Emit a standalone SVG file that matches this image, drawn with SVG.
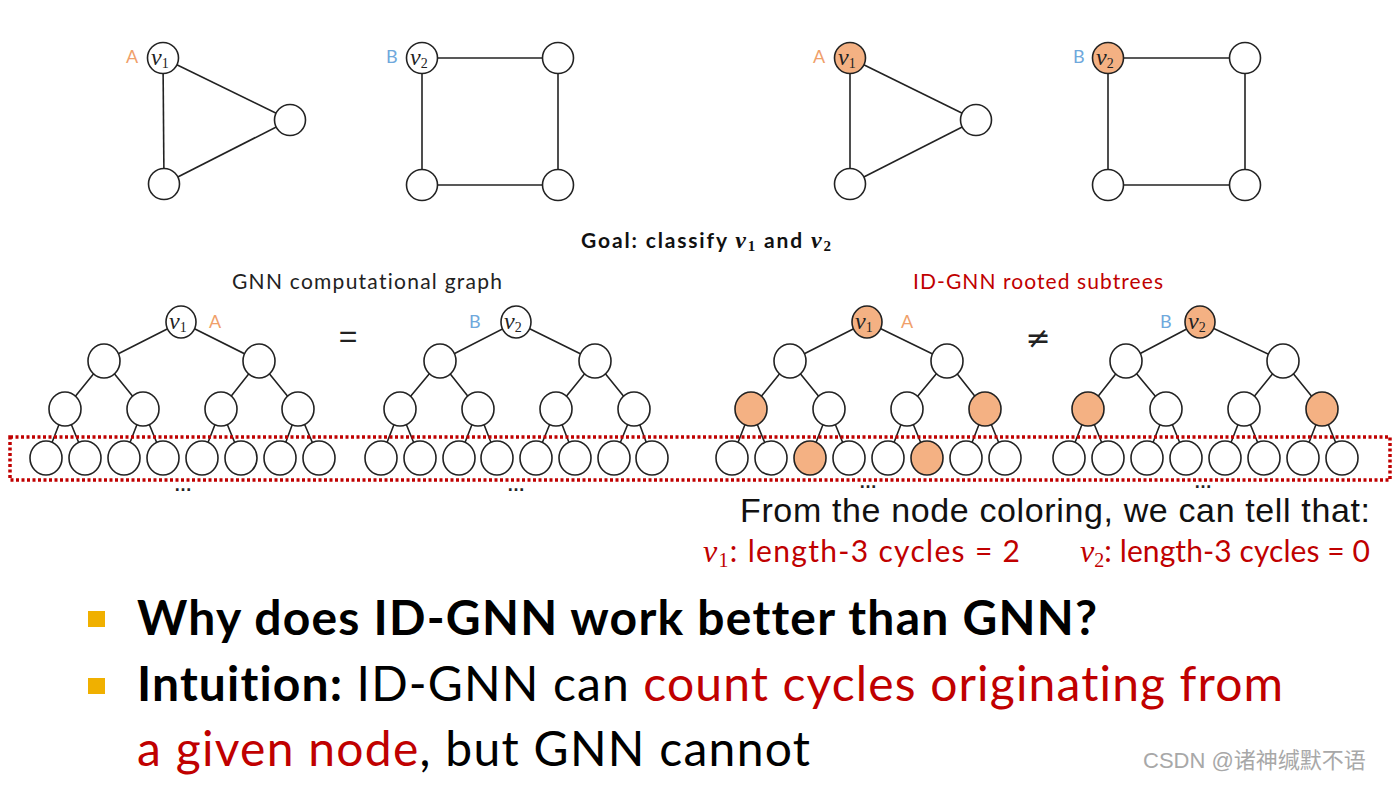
<svg xmlns="http://www.w3.org/2000/svg" width="1397" height="796" viewBox="0 0 1397 796">
<style>
text{font-variant-ligatures:none}
.e{stroke:#222;stroke-width:1.6;fill:none}
.n{fill:#fff;stroke:#222;stroke-width:1.6}
.o{fill:#f4b183}
.v{font-family:"Liberation Serif",serif;font-style:italic;font-size:24px;fill:#222}
.s{font-style:normal;font-size:14px}
.la{font-family:Lato,"Liberation Sans",sans-serif;font-size:18px;fill:#f0a06a}
.lb{font-family:Lato,"Liberation Sans",sans-serif;font-size:18px;fill:#6fa8dc}
.cal{font-family:Lato,"Liberation Sans",sans-serif}
.red{fill:#c00000}
.dots{font-family:"Liberation Sans",sans-serif;font-size:18px;font-weight:bold;fill:#222;text-anchor:middle}
</style>
<rect width="1397" height="796" fill="#fff"/>

<g id="connectors">
<line class="e" x1="163" y1="58" x2="290" y2="120"/>
<line class="e" x1="163" y1="58" x2="164" y2="184"/>
<line class="e" x1="164" y1="184" x2="290" y2="120"/>
<line class="e" x1="422" y1="58" x2="558" y2="58"/>
<line class="e" x1="422" y1="58" x2="422" y2="185"/>
<line class="e" x1="558" y1="58" x2="558" y2="185"/>
<line class="e" x1="422" y1="185" x2="558" y2="185"/>
<line class="e" x1="850" y1="58" x2="976" y2="120"/>
<line class="e" x1="850" y1="58" x2="850" y2="184"/>
<line class="e" x1="850" y1="184" x2="976" y2="120"/>
<line class="e" x1="1108" y1="58" x2="1245" y2="58"/>
<line class="e" x1="1108" y1="58" x2="1108" y2="185"/>
<line class="e" x1="1245" y1="58" x2="1245" y2="185"/>
<line class="e" x1="1108" y1="185" x2="1245" y2="185"/>
<path class="e" d="M181 322L104 361M181 322L259 361M104 361L65 409M104 361L143 409M259 361L221 409M259 361L298 409M65 409L46 458M65 409L85 458M143 409L124 458M143 409L163 458M221 409L202 458M221 409L241 458M298 409L280 458M298 409L319 458"/>
<path class="e" d="M516 322L440 361M516 322L595 361M440 361L400 409M440 361L478 409M595 361L556 409M595 361L634 409M400 409L381 458M400 409L420 458M478 409L459 458M478 409L497 458M556 409L536 458M556 409L575 458M634 409L614 458M634 409L652 458"/>
<path class="e" d="M867 322L790 361M867 322L947 361M790 361L751 409M790 361L829 409M947 361L907 409M947 361L985 409M751 409L732 458M751 409L771 458M829 409L810 458M829 409L849 458M907 409L888 458M907 409L927 458M985 409L966 458M985 409L1005 458"/>
<path class="e" d="M1200 322L1126 361M1200 322L1283 361M1126 361L1088 409M1126 361L1166 409M1283 361L1244 409M1283 361L1322 409M1088 409L1069 458M1088 409L1108 458M1166 409L1147 458M1166 409L1186 458M1244 409L1225 458M1244 409L1264 458M1322 409L1303 458M1322 409L1342 458"/>
</g>

<g id="g1-v1"><circle class="n" cx="163" cy="58" r="15.5"/><text class="v" x="151" y="65">v<tspan class="s" dy="3">1</tspan></text></g>
<g id="g1-n2"><circle class="n" cx="290" cy="120" r="15.5"/></g>
<g id="g1-n3"><circle class="n" cx="164" cy="184" r="15.5"/></g>
<text class="la" x="126" y="63">A</text>
<g id="g2-v2"><circle class="n" cx="422" cy="58" r="15.5"/><text class="v" x="410" y="65">v<tspan class="s" dy="3">2</tspan></text></g>
<g id="g2-n2"><circle class="n" cx="558" cy="58" r="15.5"/></g>
<g id="g2-n3"><circle class="n" cx="422" cy="185" r="15.5"/></g>
<g id="g2-n4"><circle class="n" cx="558" cy="185" r="15.5"/></g>
<text class="lb" x="386" y="63">B</text>
<g id="g3-v1"><circle class="n o" cx="850" cy="58" r="15.5"/><text class="v" x="838" y="65">v<tspan class="s" dy="3">1</tspan></text></g>
<g id="g3-n2"><circle class="n" cx="976" cy="120" r="15.5"/></g>
<g id="g3-n3"><circle class="n" cx="850" cy="184" r="15.5"/></g>
<text class="la" x="813" y="63">A</text>
<g id="g4-v2"><circle class="n o" cx="1108" cy="58" r="15.5"/><text class="v" x="1096" y="65">v<tspan class="s" dy="3">2</tspan></text></g>
<g id="g4-n2"><circle class="n" cx="1245" cy="58" r="15.5"/></g>
<g id="g4-n3"><circle class="n" cx="1108" cy="185" r="15.5"/></g>
<g id="g4-n4"><circle class="n" cx="1245" cy="185" r="15.5"/></g>
<text class="lb" x="1073" y="63">B</text>

<text class="cal" x="581" y="248" font-size="21" font-weight="bold" fill="#111" textLength="250">Goal: classify <tspan font-family="Liberation Serif,serif" font-style="italic" font-size="24">v</tspan><tspan font-family="Liberation Serif,serif" font-size="15" dy="3">1</tspan><tspan dy="-3"> and </tspan><tspan font-family="Liberation Serif,serif" font-style="italic" font-size="24">v</tspan><tspan font-family="Liberation Serif,serif" font-size="15" dy="3">2</tspan></text>

<text class="cal" x="367" y="289" font-size="21" fill="#222" text-anchor="middle" textLength="270">GNN computational graph</text>
<text class="cal red" x="1038" y="289" font-size="21" text-anchor="middle" textLength="250">ID-GNN rooted subtrees</text>

<g id="t1-root"><ellipse class="n" cx="181" cy="322" rx="15" ry="16"/><text class="v" x="169" y="329">v<tspan class="s" dy="3">1</tspan></text></g>
<text class="la" x="209" y="328">A</text>
<g id="t1-a1"><ellipse class="n" cx="104" cy="361" rx="16" ry="17"/></g>
<g id="t1-a2"><ellipse class="n" cx="259" cy="361" rx="16" ry="17"/></g>
<g id="t1-b1"><ellipse class="n" cx="65" cy="409" rx="16" ry="17"/></g>
<g id="t1-b2"><ellipse class="n" cx="143" cy="409" rx="16" ry="17"/></g>
<g id="t1-b3"><ellipse class="n" cx="221" cy="409" rx="16" ry="17"/></g>
<g id="t1-b4"><ellipse class="n" cx="298" cy="409" rx="16" ry="17"/></g>
<g id="t1-c1"><ellipse class="n" cx="46" cy="458" rx="16" ry="17"/></g>
<g id="t1-c2"><ellipse class="n" cx="85" cy="458" rx="16" ry="17"/></g>
<g id="t1-c3"><ellipse class="n" cx="124" cy="458" rx="16" ry="17"/></g>
<g id="t1-c4"><ellipse class="n" cx="163" cy="458" rx="16" ry="17"/></g>
<g id="t1-c5"><ellipse class="n" cx="202" cy="458" rx="16" ry="17"/></g>
<g id="t1-c6"><ellipse class="n" cx="241" cy="458" rx="16" ry="17"/></g>
<g id="t1-c7"><ellipse class="n" cx="280" cy="458" rx="16" ry="17"/></g>
<g id="t1-c8"><ellipse class="n" cx="319" cy="458" rx="16" ry="17"/></g>

<text x="348" y="347" font-family="Liberation Sans,sans-serif" font-size="32" fill="#222" text-anchor="middle">=</text>

<g id="t2-root"><ellipse class="n" cx="516" cy="322" rx="15" ry="16"/><text class="v" x="504" y="329">v<tspan class="s" dy="3">2</tspan></text></g>
<text class="lb" x="469" y="328">B</text>
<g id="t2-a1"><ellipse class="n" cx="440" cy="361" rx="16" ry="17"/></g>
<g id="t2-a2"><ellipse class="n" cx="595" cy="361" rx="16" ry="17"/></g>
<g id="t2-b1"><ellipse class="n" cx="400" cy="409" rx="16" ry="17"/></g>
<g id="t2-b2"><ellipse class="n" cx="478" cy="409" rx="16" ry="17"/></g>
<g id="t2-b3"><ellipse class="n" cx="556" cy="409" rx="16" ry="17"/></g>
<g id="t2-b4"><ellipse class="n" cx="634" cy="409" rx="16" ry="17"/></g>
<g id="t2-c1"><ellipse class="n" cx="381" cy="458" rx="16" ry="17"/></g>
<g id="t2-c2"><ellipse class="n" cx="420" cy="458" rx="16" ry="17"/></g>
<g id="t2-c3"><ellipse class="n" cx="459" cy="458" rx="16" ry="17"/></g>
<g id="t2-c4"><ellipse class="n" cx="497" cy="458" rx="16" ry="17"/></g>
<g id="t2-c5"><ellipse class="n" cx="536" cy="458" rx="16" ry="17"/></g>
<g id="t2-c6"><ellipse class="n" cx="575" cy="458" rx="16" ry="17"/></g>
<g id="t2-c7"><ellipse class="n" cx="614" cy="458" rx="16" ry="17"/></g>
<g id="t2-c8"><ellipse class="n" cx="652" cy="458" rx="16" ry="17"/></g>

<g id="t3-root"><ellipse class="n o" cx="867" cy="322" rx="15" ry="16"/><text class="v" x="855" y="329">v<tspan class="s" dy="3">1</tspan></text></g>
<text class="la" x="901" y="328">A</text>
<g id="t3-a1"><ellipse class="n" cx="790" cy="361" rx="16" ry="17"/></g>
<g id="t3-a2"><ellipse class="n" cx="947" cy="361" rx="16" ry="17"/></g>
<g id="t3-b1"><ellipse class="n o" cx="751" cy="409" rx="16" ry="17"/></g>
<g id="t3-b2"><ellipse class="n" cx="829" cy="409" rx="16" ry="17"/></g>
<g id="t3-b3"><ellipse class="n" cx="907" cy="409" rx="16" ry="17"/></g>
<g id="t3-b4"><ellipse class="n o" cx="985" cy="409" rx="16" ry="17"/></g>
<g id="t3-c1"><ellipse class="n" cx="732" cy="458" rx="16" ry="17"/></g>
<g id="t3-c2"><ellipse class="n" cx="771" cy="458" rx="16" ry="17"/></g>
<g id="t3-c3"><ellipse class="n o" cx="810" cy="458" rx="16" ry="17"/></g>
<g id="t3-c4"><ellipse class="n" cx="849" cy="458" rx="16" ry="17"/></g>
<g id="t3-c5"><ellipse class="n" cx="888" cy="458" rx="16" ry="17"/></g>
<g id="t3-c6"><ellipse class="n o" cx="927" cy="458" rx="16" ry="17"/></g>
<g id="t3-c7"><ellipse class="n" cx="966" cy="458" rx="16" ry="17"/></g>
<g id="t3-c8"><ellipse class="n" cx="1005" cy="458" rx="16" ry="17"/></g>

<text x="1038" y="348" font-family="DejaVu Sans,sans-serif" font-size="30" fill="#222" text-anchor="middle">≠</text>

<g id="t4-root"><ellipse class="n o" cx="1200" cy="322" rx="15" ry="16"/><text class="v" x="1188" y="329">v<tspan class="s" dy="3">2</tspan></text></g>
<text class="lb" x="1160" y="328">B</text>
<g id="t4-a1"><ellipse class="n" cx="1126" cy="361" rx="16" ry="17"/></g>
<g id="t4-a2"><ellipse class="n" cx="1283" cy="361" rx="16" ry="17"/></g>
<g id="t4-b1"><ellipse class="n o" cx="1088" cy="409" rx="16" ry="17"/></g>
<g id="t4-b2"><ellipse class="n" cx="1166" cy="409" rx="16" ry="17"/></g>
<g id="t4-b3"><ellipse class="n" cx="1244" cy="409" rx="16" ry="17"/></g>
<g id="t4-b4"><ellipse class="n o" cx="1322" cy="409" rx="16" ry="17"/></g>
<g id="t4-c1"><ellipse class="n" cx="1069" cy="458" rx="16" ry="17"/></g>
<g id="t4-c2"><ellipse class="n" cx="1108" cy="458" rx="16" ry="17"/></g>
<g id="t4-c3"><ellipse class="n" cx="1147" cy="458" rx="16" ry="17"/></g>
<g id="t4-c4"><ellipse class="n" cx="1186" cy="458" rx="16" ry="17"/></g>
<g id="t4-c5"><ellipse class="n" cx="1225" cy="458" rx="16" ry="17"/></g>
<g id="t4-c6"><ellipse class="n" cx="1264" cy="458" rx="16" ry="17"/></g>
<g id="t4-c7"><ellipse class="n" cx="1303" cy="458" rx="16" ry="17"/></g>
<g id="t4-c8"><ellipse class="n" cx="1342" cy="458" rx="16" ry="17"/></g>

<rect x="10" y="437" width="1380" height="43" fill="none" stroke="#c00000" stroke-width="3.5" stroke-dasharray="3 2.5"/>

<text class="dots" x="183" y="491">…</text>
<text class="dots" x="516" y="491">…</text>
<text class="dots" x="868" y="488">…</text>
<text class="dots" x="1203" y="488">…</text>

<text x="740" y="522" font-family="Liberation Sans,Arial,sans-serif" font-size="34" fill="#111" textLength="630">From the node coloring, we can tell that:</text>
<text class="cal red" x="703" y="562" font-size="30" textLength="317"><tspan font-family="Liberation Serif,serif" font-style="italic" font-size="32">v</tspan><tspan font-family="Liberation Serif,serif" font-size="20" dy="5">1</tspan><tspan dy="-5">: length-3 cycles = 2</tspan></text>
<text class="cal red" x="1080" y="562" font-size="30" textLength="290"><tspan font-family="Liberation Serif,serif" font-style="italic" font-size="32">v</tspan><tspan font-family="Liberation Serif,serif" font-size="20" dy="5">2</tspan><tspan dy="-5">: length-3 cycles = 0</tspan></text>

<rect x="88" y="611" width="17" height="16" fill="#f0b000"/>
<rect x="88" y="678" width="17" height="16" fill="#f0b000"/>
<text class="cal" x="137" y="635" font-size="48" font-weight="bold" fill="#000" textLength="960">Why does ID-GNN work better than GNN?</text>
<text class="cal" x="137" y="701" font-size="48" fill="#000" textLength="1146"><tspan font-weight="bold">Intuition:</tspan> ID-GNN can <tspan class="red">count cycles originating from</tspan></text>
<text class="cal" x="137" y="766" font-size="48" fill="#000" textLength="673"><tspan class="red">a given node</tspan>, but GNN cannot</text>

<text x="1143" y="768" font-family="Liberation Sans,'Noto Sans CJK SC',sans-serif" font-size="22" fill="#a8a8a8">CSDN @<tspan font-family="'Noto Sans CJK SC',sans-serif">诸神缄默不语</tspan></text>
</svg>
